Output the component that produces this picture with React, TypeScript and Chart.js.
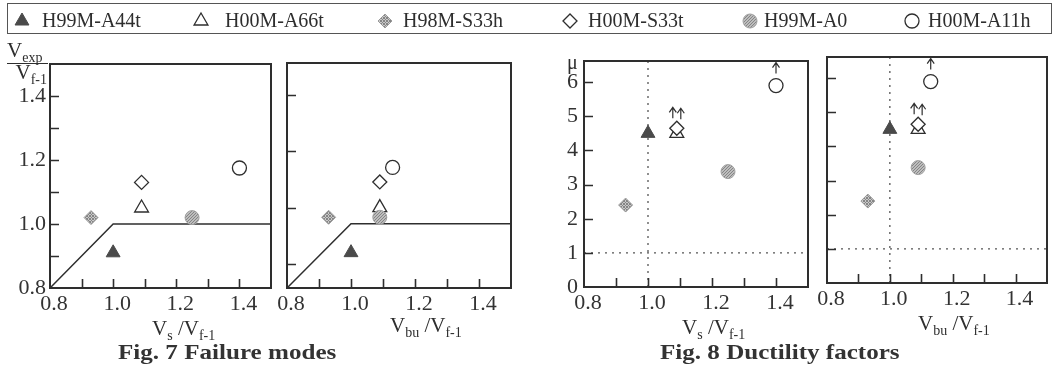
import React, { useEffect, useRef } from 'react';
import { Chart, registerables } from 'chart.js';
import { drawPoint } from 'chart.js/helpers';

Chart.register(...registerables);

// ---------------- data ----------------
const specimens = ['H99M-A44t', 'H00M-A66t', 'H98M-S33h', 'H00M-S33t', 'H99M-A0', 'H00M-A11h'];
const vsRatio = [1.0, 1.09, 0.93, 1.09, 1.25, 1.4]; // Vs / Vf-1
const vbuRatio = [1.0, 1.09, 0.93, 1.09, 1.09, 1.13]; // Vbu / Vf-1
const vexpRatio = [0.91, 1.05, 1.02, 1.13, 1.02, 1.175]; // Vexp / Vf-1
const ductility = [4.5, 4.5, 2.4, 4.65, 3.38, 5.9]; // mu
const ductilityLowerBound = [false, true, false, true, false, true];

const boundaryX = [0.8, 1.0, 1.5];
const boundaryY = [0.8, 1.0, 1.0];
const muRefX = [1.0];
const muRefY = [1.0];

const ratioMin = 0.8;
const ratioMax = 1.5;
const muMin = 0;
const muMax = 6.62;
const ratioTicks = [0.8, 0.9, 1.0, 1.1, 1.2, 1.3, 1.4, 1.5];
const ratioTickLabels = ['0.8', '', '1.0', '', '1.2', '', '1.4', ''];
const ratioYTicks = [0.8, 0.9, 1.0, 1.1, 1.2, 1.3, 1.4, 1.5];
const ratioYTickLabels = ['0.8', '', '1.0', '', '1.2', '', '1.4', ''];
const vbuPanelYTicks = [0.875, 1.05, 1.225, 1.4];
const muTicks = [0, 1, 2, 3, 4, 5, 6];
const muTickLabels = ['0', '1', '2', '3', '4', '5', '6'];

// ---------------- styling ----------------
const SERIF = "'Liberation Serif', 'Times New Roman', serif";
const INK = '#2e2e2e';
const W = 1060;
const H = 368;

function makePattern(kind: 'hatch' | 'dots'): CanvasPattern | string {
  const c = document.createElement('canvas');
  c.width = 3;
  c.height = 3;
  const g = c.getContext('2d');
  if (!g) return '#aaa';
  g.fillStyle = kind === 'hatch' ? '#c8c8c8' : '#bdbdbd';
  g.fillRect(0, 0, 3, 3);
  g.fillStyle = '#858585';
  if (kind === 'hatch') {
    g.fillRect(0, 0, 1, 1);
    g.fillRect(1, 1, 1, 1);
    g.fillRect(2, 2, 1, 1);
    g.fillRect(2, 0, 1, 1);
    g.fillRect(0, 2, 1, 1);
  } else {
    g.fillRect(0, 0, 1, 1);
    g.fillRect(1, 2, 1, 1);
    g.fillRect(2, 1, 1, 1);
  }
  const p = g.createPattern(c, 'repeat');
  return p || '#aaa';
}

function markerStyles() {
  const hatch = makePattern('hatch');
  const dots = makePattern('dots');
  return [
    { pointStyle: 'triangle', radius: 8, fill: '#4a4a4a', stroke: '#4a4a4a', bw: 1, order: 3, arrowDx: 0, arrowLift: 12 },
    { pointStyle: 'triangle', radius: 8, fill: 'rgba(255,255,255,0)', stroke: INK, bw: 1.3, order: 4, arrowDx: -4, arrowLift: 15 },
    { pointStyle: 'rectRot', radius: 7, fill: hatch, stroke: '#9a9a9a', bw: 1, order: 3, arrowDx: 0, arrowLift: 12 },
    { pointStyle: 'rectRot', radius: 7, fill: '#ffffff', stroke: INK, bw: 1.3, order: 2, arrowDx: 4, arrowLift: 9 },
    { pointStyle: 'circle', radius: 7, fill: dots, stroke: '#a0a0a0', bw: 1, order: 3, arrowDx: 0, arrowLift: 12 },
    { pointStyle: 'circle', radius: 7, fill: '#ffffff', stroke: INK, bw: 1.3, order: 3, arrowDx: 0, arrowLift: 12 },
  ];
}

// ---------------- plugins ----------------
const frameTicksPlugin = {
  id: 'frameTicks',
  afterDatasetsDraw(chart: any) {
    const { ctx, chartArea } = chart;
    const { left, right, top, bottom } = chartArea;
    const xs = chart.scales.x;
    const ys = chart.scales.y;
    ctx.save();
    ctx.strokeStyle = INK;
    ctx.lineWidth = 2;
    ctx.strokeRect(left, top, right - left, bottom - top);
    ctx.beginPath();
    xs.ticks.forEach((t: any) => {
      if (t.value <= xs.min + 1e-9 || t.value >= xs.max - 1e-9) return;
      const px = Math.round(xs.getPixelForValue(t.value)) + 0.5;
      ctx.moveTo(px, bottom);
      ctx.lineTo(px, bottom - 9);
    });
    ys.ticks.forEach((t: any) => {
      if (t.value <= ys.min + 1e-9 || t.value >= ys.max - 1e-9) return;
      const py = Math.round(ys.getPixelForValue(t.value)) + 0.5;
      ctx.moveTo(left, py);
      ctx.lineTo(left + 9, py);
    });
    ctx.lineWidth = 1.6;
    ctx.stroke();
    ctx.restore();
  },
};

const arrowPlugin = {
  id: 'lowerBoundArrows',
  afterDatasetsDraw(chart: any) {
    const ctx = chart.ctx;
    chart.data.datasets.forEach((ds: any, i: number) => {
      if (!ds.lowerBound) return;
      const meta = chart.getDatasetMeta(i);
      meta.data.forEach((el: any, j: number) => {
        if (!ds.lowerBound[j]) return;
        const x = el.x + (ds.arrowDx || 0);
        const base = el.y - (ds.arrowLift || 12);
        const tip = base - 11;
        ctx.save();
        ctx.strokeStyle = INK;
        ctx.lineWidth = 1.2;
        ctx.beginPath();
        ctx.moveTo(x, base);
        ctx.lineTo(x, tip);
        ctx.moveTo(x - 3.5, tip + 5);
        ctx.lineTo(x, tip);
        ctx.lineTo(x + 3.5, tip + 5);
        ctx.stroke();
        ctx.restore();
      });
    });
  },
};

const legendMarkerX = [22, 201, 385, 570, 750, 912];
const legendTextX = [42, 225, 403, 588, 764, 928];

const manualLegendPlugin = {
  id: 'manualLegend',
  afterDraw(chart: any) {
    const ctx = chart.ctx;
    ctx.save();
    chart.data.datasets.forEach((ds: any, i: number) => {
      ctx.fillStyle = ds.pointBackgroundColor;
      ctx.strokeStyle = ds.pointBorderColor;
      ctx.lineWidth = ds.pointBorderWidth;
      drawPoint(ctx, { pointStyle: ds.pointStyle, radius: ds.pointRadius, rotation: 0, borderWidth: ds.pointBorderWidth } as any, legendMarkerX[i], 21);
      ctx.fillStyle = INK;
      ctx.font = `20px ${SERIF}`;
      ctx.textBaseline = 'middle';
      ctx.textAlign = 'left';
      ctx.fillText(ds.label, legendTextX[i], 22);
    });
    ctx.restore();
  },
};

// ---------------- panel builder ----------------
type Rect = { l: number; t: number; r: number; b: number };
type Panel = {
  rect: Rect;
  xs: number[];
  ys: number[];
  yMin: number;
  yMax: number;
  yTicks: number[];
  yTickLabels: string[] | null;
  yLabelPad: number;
  kind: 'strength' | 'ductility';
};

function buildPanel(p: Panel, styles: any[]): any {
  const yW = 44;
  const xH = 30;
  const datasets: any[] = specimens.map((name, i) => {
    const st = styles[i];
    return {
      label: name,
      data: [{ x: p.xs[i], y: p.ys[i] }],
      pointStyle: st.pointStyle,
      pointRadius: st.radius,
      pointHoverRadius: st.radius,
      pointBackgroundColor: st.fill,
      pointBorderColor: st.stroke,
      pointBorderWidth: st.bw,
      order: st.order,
      lowerBound: p.kind === 'ductility' ? [ductilityLowerBound[i]] : undefined,
      arrowDx: st.arrowDx,
      arrowLift: st.arrowLift,
      clip: false,
    };
  });
  if (p.kind === 'strength') {
    datasets.push({
      label: 'boundary',
      data: boundaryX.map((x, i) => ({ x, y: boundaryY[i] })),
      showLine: true,
      borderColor: INK,
      borderWidth: 1.5,
      pointRadius: 0,
      order: 10,
    });
  } else {
    datasets.push({
      label: 'mu-ref-vertical',
      data: [
        { x: muRefX[0], y: p.yMin },
        { x: muRefX[0], y: p.yMax },
      ],
      showLine: true,
      borderColor: '#555',
      borderWidth: 1.3,
      borderDash: [2, 5],
      pointRadius: 0,
      order: 10,
    });
    datasets.push({
      label: 'mu-ref-horizontal',
      data: [
        { x: ratioMin, y: muRefY[0] },
        { x: ratioMax, y: muRefY[0] },
      ],
      showLine: true,
      borderColor: '#555',
      borderWidth: 1.3,
      borderDash: [2, 5],
      pointRadius: 0,
      order: 10,
    });
  }
  const showY = !!p.yTickLabels;
  return {
    type: 'scatter',
    data: { datasets },
    options: {
      responsive: false,
      animation: false,
      events: [],
      devicePixelRatio: 1,
      layout: {
        padding: {
          left: p.rect.l - yW,
          top: p.rect.t,
          right: W - p.rect.r,
          bottom: H - p.rect.b - xH,
        },
      },
      plugins: { legend: { display: false }, tooltip: { enabled: false } },
      scales: {
        x: {
          type: 'linear',
          min: ratioMin,
          max: ratioMax,
          afterBuildTicks: (s: any) => {
            s.ticks = ratioTicks.map((v) => ({ value: v }));
          },
          afterFit: (s: any) => {
            s.height = xH;
          },
          grid: { display: false, drawTicks: false },
          border: { display: false },
          ticks: {
            autoSkip: false,
            maxRotation: 0,
            padding: 3,
            labelOffset: 4,
            color: '#333',
            font: { family: SERIF, size: 22 },
            callback: (_v: any, i: number) => ratioTickLabels[i],
          },
        },
        y: {
          type: 'linear',
          min: p.yMin,
          max: p.yMax,
          afterBuildTicks: (s: any) => {
            s.ticks = p.yTicks.map((v) => ({ value: v }));
          },
          afterFit: (s: any) => {
            s.width = yW;
          },
          grid: { display: false, drawTicks: false },
          border: { display: false },
          ticks: {
            display: showY,
            autoSkip: false,
            padding: p.yLabelPad,
            color: '#333',
            font: { family: SERIF, size: 22 },
            callback: (_v: any, i: number) => (p.yTickLabels ? p.yTickLabels[i] : ''),
          },
        },
      },
    },
    plugins: [frameTicksPlugin, arrowPlugin],
  };
}

const canvasStyle: React.CSSProperties = { position: 'absolute', left: 0, top: 0 };

const Sub = ({ children }: { children: React.ReactNode }) => (
  <span style={{ fontSize: 14, position: 'relative', top: 5 }}>{children}</span>
);

export default function App() {
  const legendRef = useRef<HTMLCanvasElement>(null);
  const r1 = useRef<HTMLCanvasElement>(null);
  const r2 = useRef<HTMLCanvasElement>(null);
  const r3 = useRef<HTMLCanvasElement>(null);
  const r4 = useRef<HTMLCanvasElement>(null);

  useEffect(() => {
    const styles = markerStyles();
    const charts: Chart[] = [];
    const panels: Panel[] = [
      { rect: { l: 50, t: 64, r: 271, b: 288 }, xs: vsRatio, ys: vexpRatio, yMin: ratioMin, yMax: ratioMax, yTicks: ratioYTicks, yTickLabels: ratioYTickLabels, yLabelPad: 4, kind: 'strength' },
      { rect: { l: 287, t: 63, r: 511, b: 288 }, xs: vbuRatio, ys: vexpRatio, yMin: ratioMin, yMax: ratioMax, yTicks: vbuPanelYTicks, yTickLabels: null, yLabelPad: 4, kind: 'strength' },
      { rect: { l: 584, t: 61, r: 808, b: 287 }, xs: vsRatio, ys: ductility, yMin: muMin, yMax: muMax, yTicks: muTicks, yTickLabels: muTickLabels, yLabelPad: 6, kind: 'ductility' },
      { rect: { l: 827, t: 57, r: 1047, b: 283 }, xs: vbuRatio, ys: ductility, yMin: muMin, yMax: muMax, yTicks: muTicks, yTickLabels: null, yLabelPad: 6, kind: 'ductility' },
    ];
    [r1, r2, r3, r4].forEach((r, i) => {
      if (r.current) charts.push(new Chart(r.current, buildPanel(panels[i], styles)));
    });
    if (legendRef.current) {
      charts.push(
        new Chart(legendRef.current, {
          type: 'scatter',
          data: {
            datasets: specimens.map((name, i) => ({
              label: name,
              data: [],
              pointStyle: styles[i].pointStyle as any,
              pointRadius: styles[i].radius,
              pointBackgroundColor: styles[i].fill as any,
              pointBorderColor: styles[i].stroke,
              pointBorderWidth: styles[i].bw,
            })),
          },
          options: {
            responsive: false,
            animation: false,
            events: [],
            devicePixelRatio: 1,
            plugins: { legend: { display: false }, tooltip: { enabled: false } },
            scales: { x: { display: false }, y: { display: false } },
          },
          plugins: [manualLegendPlugin],
        } as any)
      );
    }
    return () => charts.forEach((c) => c.destroy());
  }, []);

  const title: React.CSSProperties = { position: 'absolute', fontSize: 21, lineHeight: '21px', whiteSpace: 'nowrap', color: INK };
  const caption: React.CSSProperties = {
    position: 'absolute',
    fontSize: 22,
    lineHeight: '22px',
    fontWeight: 'bold',
    whiteSpace: 'nowrap',
    color: '#333',
    transform: 'scaleX(1.14)',
    transformOrigin: 'left top',
  };

  return (
    <div style={{ position: 'absolute', left: 0, top: 0, width: W, height: H, background: '#fff', fontFamily: SERIF, overflow: 'hidden' }}>
      <div style={{ position: 'absolute', left: 7, top: 3, width: 1045, height: 31, border: '1.5px solid #555', boxSizing: 'border-box' }} />
      <canvas ref={legendRef} width={W} height={40} style={canvasStyle} />
      <canvas ref={r1} width={W} height={H} style={canvasStyle} />
      <canvas ref={r2} width={W} height={H} style={canvasStyle} />
      <canvas ref={r3} width={W} height={H} style={canvasStyle} />
      <canvas ref={r4} width={W} height={H} style={canvasStyle} />

      {/* y-axis title of Fig. 7 */}
      <div style={{ ...title, left: 7, top: 40 }}>
        V<Sub>exp</Sub>
      </div>
      <div style={{ position: 'absolute', left: 7, top: 63, width: 41, height: 0, borderTop: `1.5px solid ${INK}` }} />
      <div style={{ ...title, right: W - 47, top: 62 }}>
        V<Sub>f-1</Sub>
      </div>
      {/* y-axis title of Fig. 8 */}
      <div style={{ ...title, fontSize: 20, lineHeight: '20px', left: 567, top: 52 }}>μ</div>

      {/* x-axis titles */}
      <div style={{ ...title, left: 152, top: 318 }}>
        V<Sub>s</Sub> /V<Sub>f-1</Sub>
      </div>
      <div style={{ ...title, left: 390, top: 315 }}>
        V<Sub>bu</Sub> /V<Sub>f-1</Sub>
      </div>
      <div style={{ ...title, left: 682, top: 317 }}>
        V<Sub>s</Sub> /V<Sub>f-1</Sub>
      </div>
      <div style={{ ...title, left: 918, top: 313 }}>
        V<Sub>bu</Sub> /V<Sub>f-1</Sub>
      </div>

      {/* captions */}
      <div style={{ ...caption, left: 118, top: 341 }}>Fig. 7 Failure modes</div>
      <div style={{ ...caption, left: 660, top: 341 }}>Fig. 8 Ductility factors</div>
    </div>
  );
}
